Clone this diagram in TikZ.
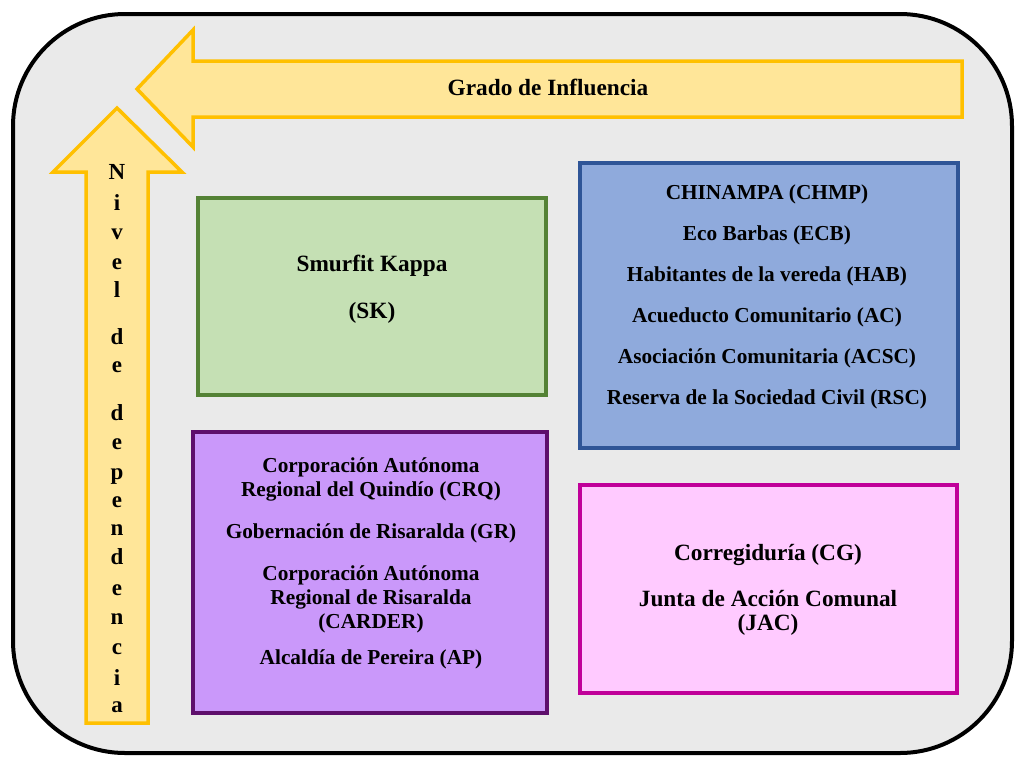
\documentclass[tikz,border=0pt]{standalone}
\usepackage{fontspec}
\setmainfont{Liberation Serif}
\definecolor{fondo}{HTML}{EAEAEA}
\definecolor{flechaFill}{HTML}{FFE699}
\definecolor{flechaLine}{HTML}{FFC000}
\definecolor{verdeFill}{HTML}{C5E0B4}
\definecolor{verdeLine}{HTML}{548235}
\definecolor{azulFill}{HTML}{8FAADC}
\definecolor{azulLine}{HTML}{2F5597}
\definecolor{moradoFill}{HTML}{CA98FA}
\definecolor{moradoLine}{HTML}{5E0F6C}
\definecolor{rosaFill}{HTML}{FFCAFF}
\definecolor{rosaLine}{HTML}{C00099}

\begin{document}
\begin{tikzpicture}[x=1pt,y=-1pt,
        caja/.style={line width=4pt},
        flecha/.style={draw=flechaLine,fill=flechaFill,line width=3.5pt,line join=miter},
        texto/.style={font=\fontsize{23.3}{24}\selectfont\bfseries,align=center,inner sep=0pt},
        chico/.style={texto,font=\fontsize{21.3}{24}\selectfont\bfseries},
        letra/.style={font=\fontsize{23}{24}\selectfont\bfseries,anchor=base,inner sep=0pt}]
        \fill[white] (0,0) rectangle (1015,756);
        \useasboundingbox (0,0) rectangle (1015,756);
        % marco general
        \draw[line width=4pt,fill=fondo,rounded corners=112pt] (13,14) rectangle (1012,753);
        % flechas
        \draw[flecha] (137,89) -- (193,30) -- (193,61) -- (962,61) -- (962,117)
                      -- (193,117) -- (193,147) -- cycle;
        \draw[flecha] (117,108) -- (182,172) -- (148,172) -- (148,723) -- (86,723)
                      -- (86,172) -- (53,172) -- cycle;
        \node[texto]  (grado) at (548,87) {Grado de Influencia};
        \foreach \ch/\yy [count=\k] in {N/172,i/203,v/232,e/262,l/290,d/337,e/365,
                d/413,e/442,p/472,e/500,n/528,d/557,e/588,n/617,c/647,i/678,a/705}
            \node[letra] (nivel\k) at (117,\yy+7) {\ch};
        % cajas
        \draw[caja,draw=verdeLine,fill=verdeFill]   (198,198) rectangle (546,395);
        \draw[caja,draw=azulLine,fill=azulFill]     (580,163) rectangle (958,448);
        \draw[caja,draw=moradoLine,fill=moradoFill] (193,432) rectangle (547,713);
        \draw[caja,draw=rosaLine,fill=rosaFill]     (580,485) rectangle (957,693);
        \node[texto] (sk) at (372,289) {Smurfit Kappa\\[23pt](SK)};
        \node[chico,font=\fontsize{21.3}{41}\selectfont\bfseries] (comunidad) at (767,297)
            {CHINAMPA (CHMP)\\Eco Barbas (ECB)\\Habitantes de la vereda (HAB)\\
             Acueducto Comunitario (AC)\\Asociación Comunitaria (ACSC)\\
             Reserva de la Sociedad Civil (RSC)};
        \node[chico] (entidades) at (371,563)
            {Corporación Autónoma\\Regional del Quindío (CRQ)\\[18pt]
             Gobernación de Risaralda (GR)\\[18pt]
             Corporación Autónoma\\Regional de Risaralda\\(CARDER)\\[12pt]
             Alcaldía de Pereira (AP)};
        \node[texto] (local) at (768,590)
            {Corregiduría (CG)\\[22pt]Junta de Acción Comunal\\(JAC)};
    \end{tikzpicture}
\end{document}
